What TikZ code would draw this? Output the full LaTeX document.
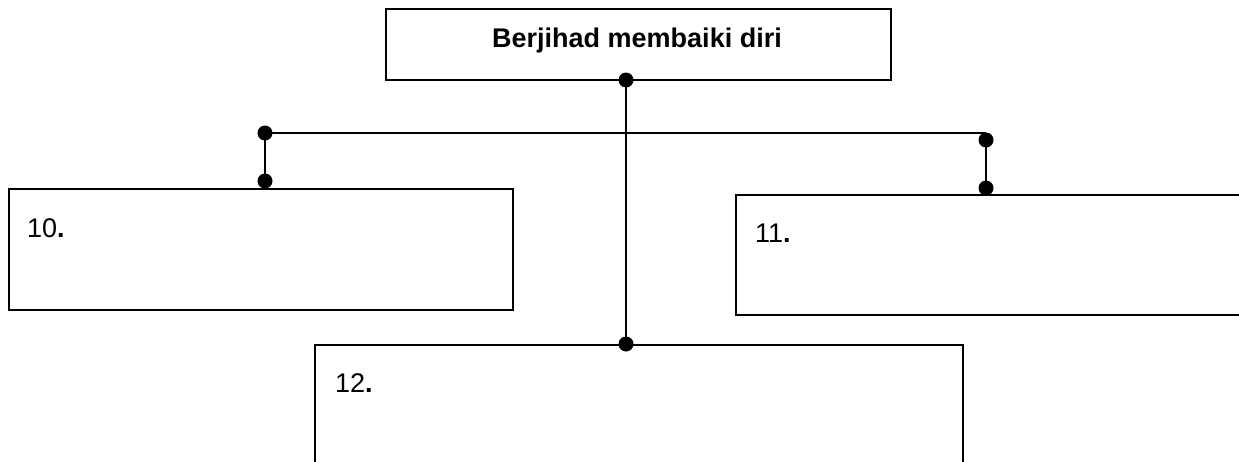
\documentclass[tikz,border=0pt]{standalone}
\usepackage{fontspec}
\setmainfont{Liberation Sans}
\begin{document}
\begin{tikzpicture}[x=1pt,y=-1pt,
  boxstyle/.style={draw, line width=2.4pt, inner sep=0pt, anchor=north west},
  dotstyle/.style={circle, fill=black, inner sep=0pt, minimum size=15pt},
  linkstyle/.style={line width=2.3pt},
  barstyle/.style={line width=1.7pt},
  labelstyle/.style={anchor=base west, font=\fontsize{27}{32}\selectfont, inner sep=0pt}]
\useasboundingbox (0,0) rectangle (1239,461);
\clip (0,0) rectangle (1239,461);
\fill[white] (0,0) rectangle (1239,461);
% boxes
\node[boxstyle, line width=2pt, minimum width=505pt, minimum height=71pt] (top) at (385,8) {};
\node[boxstyle, minimum width=504pt, minimum height=121pt] (left) at (8,188) {};
\node[boxstyle, minimum width=540pt, minimum height=120pt] (right) at (735,194) {};
\node[boxstyle, minimum width=648pt, minimum height=140pt] (bottom) at (314,344) {};
% texts
\node[anchor=base, inner sep=0pt, font=\bfseries\fontsize{27}{32}\selectfont] (title) at (637,47) {Berjihad membaiki diri};
\node[labelstyle] (l10) at (27,237) {10\textbf{.}};
\node[labelstyle] (l11) at (755,242) {11\textbf{.}};
\node[labelstyle] (l12) at (335,392) {12\textbf{.}};
% dots
\node[dotstyle] (d1) at (626,80) {};
\node[dotstyle] (d2) at (626,344) {};
\node[dotstyle] (d3) at (265,133) {};
\node[dotstyle] (d4) at (265,181) {};
\node[dotstyle] (d5) at (986,140) {};
\node[dotstyle] (d6) at (986,188) {};
\coordinate (barR) at (986,133);
% connectors
\draw[linkstyle] (d1.center) -- (d2.center);
\draw[barstyle] (d3.center) -- (barR);
\draw[linkstyle] (d3.center) -- (d4.center);
\draw[linkstyle] (d5.center) -- (d6.center);
\end{tikzpicture}
\end{document}
